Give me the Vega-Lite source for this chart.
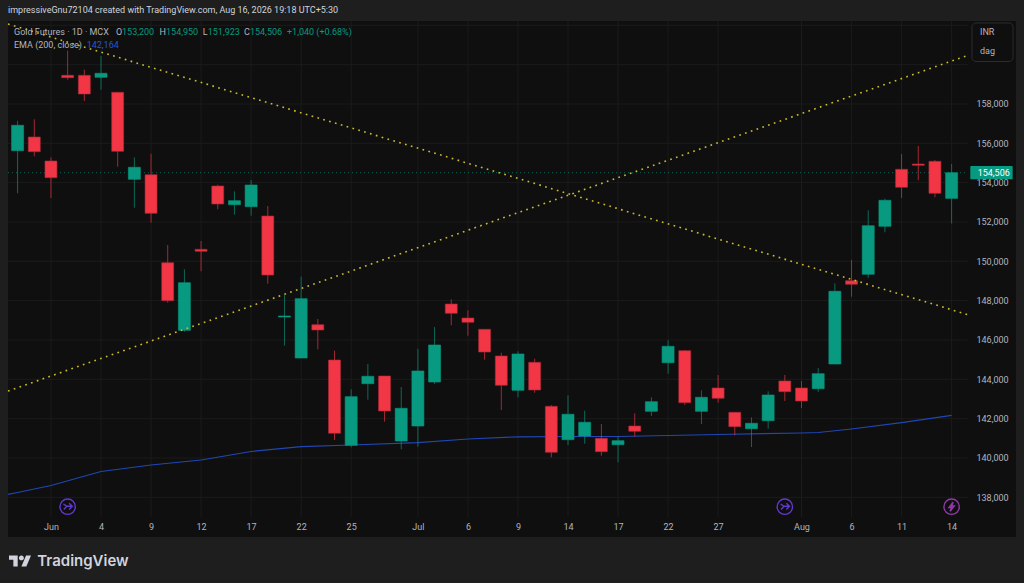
{
"$schema":"https://vega.github.io/schema/vega-lite/v6.json",
"width":1008,"height":516,
"autosize":{"type":"none"},
"padding":{"left":8,"top":21,"right":8,"bottom":46},
"background":"#1e1e1e",
"view":{"fill":"#0f0f0f","stroke":null},
"config":{"font":"Roboto"},
"title":{"text":"impressiveGnu72104 created with TradingView.com, Aug 16, 2026 19:18 UTC+5:30","anchor":"start","frame":"group","offset":6,"fontSize":9,"fontWeight":"normal","color":"#d1d4dc","font":"Roboto"},
"datasets":{
"candles":[
{"i":0,"date":"May 28","open":155625,"high":157150,"low":153458,"close":156916,"dir":"up"},
{"i":1,"date":"May 29","open":156321,"high":157221,"low":155340,"close":155574,"dir":"down"},
{"i":2,"date":"Jun 1","open":155101,"high":155289,"low":153219,"close":154252,"dir":"down"},
{"i":3,"date":"Jun 2","open":159459,"high":160710,"low":159235,"close":159337,"dir":"down"},
{"i":4,"date":"Jun 3","open":159459,"high":159743,"low":158152,"close":158508,"dir":"down"},
{"i":5,"date":"Jun 4","open":159357,"high":160440,"low":158726,"close":159560,"dir":"up"},
{"i":6,"date":"Jun 5","open":158594,"high":158610,"low":154811,"close":155594,"dir":"down"},
{"i":7,"date":"Jun 8","open":154170,"high":155289,"low":152726,"close":154781,"dir":"up"},
{"i":8,"date":"Jun 9","open":154404,"high":155472,"low":151963,"close":152441,"dir":"down"},
{"i":9,"date":"Jun 10","open":149929,"high":150829,"low":147895,"close":147997,"dir":"down"},
{"i":10,"date":"Jun 11","open":146492,"high":149594,"low":146421,"close":148912,"dir":"up"},
{"i":11,"date":"Jun 12","open":150611,"high":151033,"low":149492,"close":150509,"dir":"down"},
{"i":12,"date":"Jun 15","open":153830,"high":153896,"low":152645,"close":152914,"dir":"down"},
{"i":13,"date":"Jun 16","open":152879,"high":153560,"low":152370,"close":153082,"dir":"up"},
{"i":14,"date":"Jun 17","open":152777,"high":154135,"low":152319,"close":153880,"dir":"up"},
{"i":15,"date":"Jun 18","open":152304,"high":152813,"low":148862,"close":149304,"dir":"down"},
{"i":16,"date":"Jun 19","open":147168,"high":148287,"low":145709,"close":147219,"dir":"up"},
{"i":17,"date":"Jun 22","open":145083,"high":149218,"low":145083,"close":148099,"dir":"up"},
{"i":18,"date":"Jun 23","open":146777,"high":147067,"low":145526,"close":146507,"dir":"down"},
{"i":19,"date":"Jun 24","open":144982,"high":145455,"low":140914,"close":141254,"dir":"down"},
{"i":20,"date":"Jun 25","open":140644,"high":143492,"low":140543,"close":143116,"dir":"up"},
{"i":21,"date":"Jun 26","open":143777,"high":144778,"low":142963,"close":144153,"dir":"up"},
{"i":22,"date":"Jun 29","open":144168,"high":144168,"low":141844,"close":142388,"dir":"down"},
{"i":23,"date":"Jun 30","open":140863,"high":143609,"low":140441,"close":142526,"dir":"up"},
{"i":24,"date":"Jul 1","open":141626,"high":145556,"low":140573,"close":144422,"dir":"up"},
{"i":25,"date":"Jul 2","open":143863,"high":146660,"low":143761,"close":145744,"dir":"up"},
{"i":26,"date":"Jul 3","open":147829,"high":148068,"low":146746,"close":147356,"dir":"down"},
{"i":27,"date":"Jul 6","open":147117,"high":147509,"low":146217,"close":146899,"dir":"down"},
{"i":28,"date":"Jul 7","open":146543,"high":146543,"low":144997,"close":145389,"dir":"down"},
{"i":29,"date":"Jul 8","open":145185,"high":145353,"low":142439,"close":143695,"dir":"down"},
{"i":30,"date":"Jul 9","open":143441,"high":145424,"low":143085,"close":145287,"dir":"up"},
{"i":31,"date":"Jul 10","open":144865,"high":145048,"low":143319,"close":143456,"dir":"down"},
{"i":32,"date":"Jul 13","open":142627,"high":142694,"low":140034,"close":140288,"dir":"down"},
{"i":33,"date":"Jul 14","open":140929,"high":143187,"low":140659,"close":142221,"dir":"up"},
{"i":34,"date":"Jul 15","open":141117,"high":142404,"low":140726,"close":141814,"dir":"up"},
{"i":35,"date":"Jul 16","open":141000,"high":141727,"low":140115,"close":140319,"dir":"down"},
{"i":36,"date":"Jul 17","open":140675,"high":141082,"low":139780,"close":140878,"dir":"up"},
{"i":37,"date":"Jul 20","open":141626,"high":142271,"low":141082,"close":141356,"dir":"down"},
{"i":38,"date":"Jul 21","open":142373,"high":143085,"low":142134,"close":142861,"dir":"up"},
{"i":39,"date":"Jul 22","open":144844,"high":145983,"low":144285,"close":145678,"dir":"up"},
{"i":40,"date":"Jul 23","open":145455,"high":145490,"low":142694,"close":142810,"dir":"down"},
{"i":41,"date":"Jul 24","open":142373,"high":143441,"low":141727,"close":143085,"dir":"up"},
{"i":42,"date":"Jul 27","open":143558,"high":144219,"low":142810,"close":143034,"dir":"down"},
{"i":43,"date":"Jul 28","open":142322,"high":142322,"low":141153,"close":141590,"dir":"down"},
{"i":44,"date":"Jul 29","open":141488,"high":142068,"low":140558,"close":141763,"dir":"up"},
{"i":45,"date":"Jul 30","open":141895,"high":143390,"low":141488,"close":143202,"dir":"up"},
{"i":46,"date":"Jul 31","open":143914,"high":144219,"low":142897,"close":143370,"dir":"down"},
{"i":47,"date":"Aug 3","open":143558,"high":143914,"low":142541,"close":142897,"dir":"down"},
{"i":48,"date":"Aug 4","open":143522,"high":144575,"low":143355,"close":144285,"dir":"up"},
{"i":49,"date":"Aug 5","open":144778,"high":148882,"low":144778,"close":148475,"dir":"up"},
{"i":50,"date":"Aug 6","open":149014,"high":150067,"low":148201,"close":148831,"dir":"down"},
{"i":51,"date":"Aug 7","open":149340,"high":152594,"low":149151,"close":151811,"dir":"up"},
{"i":52,"date":"Aug 10","open":151780,"high":153184,"low":151475,"close":153102,"dir":"up"},
{"i":53,"date":"Aug 11","open":154679,"high":155457,"low":153219,"close":153764,"dir":"down"},
{"i":54,"date":"Aug 12","open":154948,"high":155864,"low":154119,"close":154882,"dir":"down"},
{"i":55,"date":"Aug 13","open":155086,"high":155152,"low":153255,"close":153458,"dir":"down"},
{"i":56,"date":"Aug 14","open":153200,"high":154950,"low":151923,"close":154506,"dir":"up"}
],
"ema":[
{"i":-0.576,"ema":138152},{"i":0,"ema":138244},{"i":2,"ema":138600},{"i":5,"ema":139312},{"i":8,"ema":139642},{"i":11,"ema":139897},{"i":14,"ema":140329},{"i":17,"ema":140573},{"i":20,"ema":140660},{"i":24,"ema":140776},{"i":27,"ema":140965},{"i":30,"ema":141076},{"i":33,"ema":141092},{"i":36,"ema":141092},{"i":39,"ema":141142},{"i":42,"ema":141193},{"i":47,"ema":141270},{"i":48,"ema":141295},{"i":50,"ema":141473},{"i":53,"ema":141793},{"i":56,"ema":142164}
],
"trend":[
{"line":"falling","i":-0.576,"price":162067},{"line":"falling","i":57.04,"price":147270},
{"line":"rising","i":-0.576,"price":143405},{"line":"rising","i":57.04,"price":160491}
],
"gridY":[
{"price":138000,"from":-0.576,"to":56.98},{"price":140000,"from":-0.576,"to":56.98},{"price":142000,"from":-0.576,"to":56.98},{"price":144000,"from":-0.576,"to":56.98},{"price":146000,"from":-0.576,"to":56.98},{"price":148000,"from":-0.576,"to":56.98},{"price":150000,"from":-0.576,"to":56.98},{"price":152000,"from":-0.576,"to":56.98},{"price":154000,"from":-0.576,"to":56.98},{"price":156000,"from":-0.576,"to":56.98},{"price":158000,"from":-0.576,"to":56.98},{"price":160000,"from":-0.576,"to":56.98},{"price":162000,"from":-0.576,"to":56.98}
],
"gridX":[
{"i":2,"top":162220,"bottom":136998},{"i":5,"top":162220,"bottom":136998},{"i":8,"top":162220,"bottom":136998},{"i":11,"top":162220,"bottom":136998},{"i":14,"top":162220,"bottom":136998},{"i":17,"top":162220,"bottom":136998},{"i":20,"top":162220,"bottom":136998},{"i":24,"top":162220,"bottom":136998},{"i":27,"top":162220,"bottom":136998},{"i":30,"top":162220,"bottom":136998},{"i":33,"top":162220,"bottom":136998},{"i":36,"top":162220,"bottom":136998},{"i":39,"top":162220,"bottom":136998},{"i":42,"top":162220,"bottom":136998},{"i":47,"top":162220,"bottom":136998},{"i":50,"top":162220,"bottom":136998},{"i":53,"top":162220,"bottom":136998},{"i":56,"top":162220,"bottom":136998}
],
"greyText":[
{"t":"Gold Futures · 1D · MCX","x":-0.216,"y":161660},{"t":"O","x":5.9,"y":161660},{"t":"H","x":8.5,"y":161660},{"t":"L","x":11.1,"y":161660},{"t":"C","x":13.57,"y":161660},{"t":"EMA (200, close)","x":-0.216,"y":160999}
],
"greenText":[
{"t":"153,200","x":6.26,"y":161660},{"t":"154,950","x":8.9,"y":161660},{"t":"151,923","x":11.4,"y":161660},{"t":"154,506","x":13.93,"y":161660},{"t":"+1,040 (+0.68%)","x":16.15,"y":161660}
]
},
"layer":[
{"data":{"name":"gridY"},"mark":{"type":"rule","color":"#1b1b1b","strokeWidth":1},
 "encoding":{
 "x":{"field":"from","type":"quantitative","scale":{"domain":[-0.576,59.86],"nice":false,"zero":false,"padding":0},
  "axis":{"title":null,"values":[2,5,8,11,14,17,20,24,27,30,33,36,39,42,47,50,53,56],
   "labelExpr":"{'2':'Jun','5':'4','8':'9','11':'12','14':'17','17':'22','20':'25','24':'Jul','27':'6','30':'9','33':'14','36':'17','39':'22','42':'27','47':'Aug','50':'6','53':'11','56':'14'}[datum.value]",
   "grid":false,"ticks":false,"domain":false,"offset":-20,"labelPadding":5,"labelFontSize":9,"labelColor":"#b2b5be","labelFont":"Roboto","labelFlush":false,"labelOverlap":false}},
 "x2":{"field":"to"},
 "y":{"field":"price","type":"quantitative","scale":{"domain":[135981,162220],"nice":false,"zero":false},
  "axis":{"title":null,"orient":"right","values":[138000,140000,142000,144000,146000,148000,150000,152000,154000,156000,158000],"labelExpr":"format(datum.value, ',')","grid":false,"ticks":false,"domain":false,"offset":-48,"labelPadding":8,"labelFontSize":9,"labelColor":"#b2b5be","labelFont":"Roboto","labelOverlap":false}}}},
{"data":{"name":"gridX"},"mark":{"type":"rule","color":"#1b1b1b","strokeWidth":1},
 "encoding":{"x":{"field":"i","type":"quantitative"},"y":{"field":"top","type":"quantitative"},"y2":{"field":"bottom"}}},
{"data":{"values":[{"price":154506,"from":-0.576,"to":56.98}]},"mark":{"type":"rule","color":"#089981","strokeWidth":1,"strokeDash":[1,3],"opacity":0.6},
 "encoding":{"x":{"field":"from","type":"quantitative"},"x2":{"field":"to"},"y":{"field":"price","type":"quantitative"}}},
{"data":{"name":"ema"},"mark":{"type":"line","color":"#2147b5","strokeWidth":1.2},
 "encoding":{"x":{"field":"i","type":"quantitative"},"y":{"field":"ema","type":"quantitative"}}},
{"data":{"name":"candles"},"mark":{"type":"rule","strokeWidth":1,"opacity":0.65},
 "encoding":{"x":{"field":"i","type":"quantitative"},"y":{"field":"low","type":"quantitative"},"y2":{"field":"high"},
  "color":{"field":"dir","type":"nominal","legend":null,"scale":{"domain":["up","down"],"range":["#089981","#f23645"]}}}},
{"data":{"name":"candles"},"mark":{"type":"bar","size":12,"strokeWidth":1,"strokeOpacity":0.6},
 "encoding":{"x":{"field":"i","type":"quantitative"},"y":{"field":"open","type":"quantitative"},"y2":{"field":"close"},
  "color":{"field":"dir","type":"nominal","legend":null},
  "stroke":{"field":"dir","type":"nominal","legend":null,"scale":{"domain":["up","down"],"range":["#089981","#a82a38"]}}}},
{"data":{"name":"trend"},"mark":{"type":"line","color":"#cdbb2a","strokeWidth":1.6,"strokeDash":[1.7,4.4]},
 "encoding":{"x":{"field":"i","type":"quantitative"},"y":{"field":"price","type":"quantitative"},"detail":{"field":"line"}}},
{"data":{"values":[{"i":3,"p":137522},{"i":46,"p":137522}]},"mark":{"type":"point","filled":false,"size":237,"color":"#6238d0","strokeWidth":1.4,"opacity":1,
  "shape":"M-1 0a1 1 0 1 0 2 0a1 1 0 1 0 -2 0zM-.55 -.35L-.1 -.05L.55 -.05M.2 -.45L.6 -.05L.2 .35M-.1 -.05L-.5 .35"},
 "encoding":{"x":{"field":"i","type":"quantitative"},"y":{"field":"p","type":"quantitative"}}},
{"data":{"values":[{"i":56,"p":137522}]},"mark":{"type":"point","filled":false,"size":237,"color":"#8e3aa8","strokeWidth":1.4,"opacity":1,
  "shape":"M-1 0a1 1 0 1 0 2 0a1 1 0 1 0 -2 0zM.2 -.6L-.35 .1L-.02 .1L-.2 .6L.35 -.1L.02 -.1Z"},
 "encoding":{"x":{"field":"i","type":"quantitative"},"y":{"field":"p","type":"quantitative"}}},
{"data":{"name":"greyText"},"mark":{"type":"text","align":"left","baseline":"middle","fontSize":9,"color":"#b2b5be","font":"Roboto"},
 "encoding":{"x":{"field":"x","type":"quantitative"},"y":{"field":"y","type":"quantitative"},"text":{"field":"t"}}},
{"data":{"name":"greenText"},"mark":{"type":"text","align":"left","baseline":"middle","fontSize":9,"color":"#089981","font":"Roboto"},
 "encoding":{"x":{"field":"x","type":"quantitative"},"y":{"field":"y","type":"quantitative"},"text":{"field":"t"}}},
{"data":{"values":[{"t":"142,164","x":4.14,"y":160999}]},"mark":{"type":"text","align":"left","baseline":"middle","fontSize":9,"color":"#2a55d0","font":"Roboto"},
 "encoding":{"x":{"field":"x","type":"quantitative"},"y":{"field":"y","type":"quantitative"},"text":{"field":"t"}}},
{"data":{"values":[{"x":57.22,"x2":59.68,"y":162120,"y2":160160}]},"mark":{"type":"rect","fill":"#0f0f0f","stroke":"#2c2c2c","strokeWidth":1,"cornerRadius":4},
 "encoding":{"x":{"field":"x","type":"quantitative"},"x2":{"field":"x2"},"y":{"field":"y","type":"quantitative"},"y2":{"field":"y2"}}},
{"data":{"values":[{"t":"INR","x":57.7,"y":161660},{"t":"dag","x":57.7,"y":160700}]},"mark":{"type":"text","align":"left","baseline":"middle","fontSize":9,"color":"#b2b5be","font":"Roboto"},
 "encoding":{"x":{"field":"x","type":"quantitative"},"y":{"field":"y","type":"quantitative"},"text":{"field":"t"}}},
{"data":{"values":[{"x":57.12,"x2":59.66,"y":154846,"y2":154170}]},"mark":{"type":"rect","fill":"#089981","cornerRadius":1},
 "encoding":{"x":{"field":"x","type":"quantitative"},"x2":{"field":"x2"},"y":{"field":"y","type":"quantitative"},"y2":{"field":"y2"}}},
{"data":{"values":[{"t":"154,506","x":57.56,"y":154506}]},"mark":{"type":"text","align":"left","baseline":"middle","fontSize":9,"color":"#ffffff","font":"Roboto"},
 "encoding":{"x":{"field":"x","type":"quantitative"},"y":{"field":"y","type":"quantitative"},"text":{"field":"t"}}},
{"data":{"values":[{"x":0.144,"y":134761}]},"mark":{"type":"point","filled":true,"size":484,"color":"#d1d4dc","opacity":1,
  "shape":"M-.211 .507L-.606 .507L-.606 -.113L-1 -.113L-1 -.507L-.211 -.507ZM.577 .507L.127 .507L.549 -.507L1 -.507ZM-.098 -.282a.225 .225 0 1 0 .45 0a.225 .225 0 1 0 -.45 0z"},
 "encoding":{"x":{"field":"x","type":"quantitative"},"y":{"field":"y","type":"quantitative"}}},
{"data":{"values":[{"t":"TradingView","x":1.18,"y":134761}]},"mark":{"type":"text","align":"left","baseline":"middle","fontSize":15,"fontWeight":600,"color":"#d1d4dc","font":"Inter"},
 "encoding":{"x":{"field":"x","type":"quantitative"},"y":{"field":"y","type":"quantitative"},"text":{"field":"t"}}}
]
}
